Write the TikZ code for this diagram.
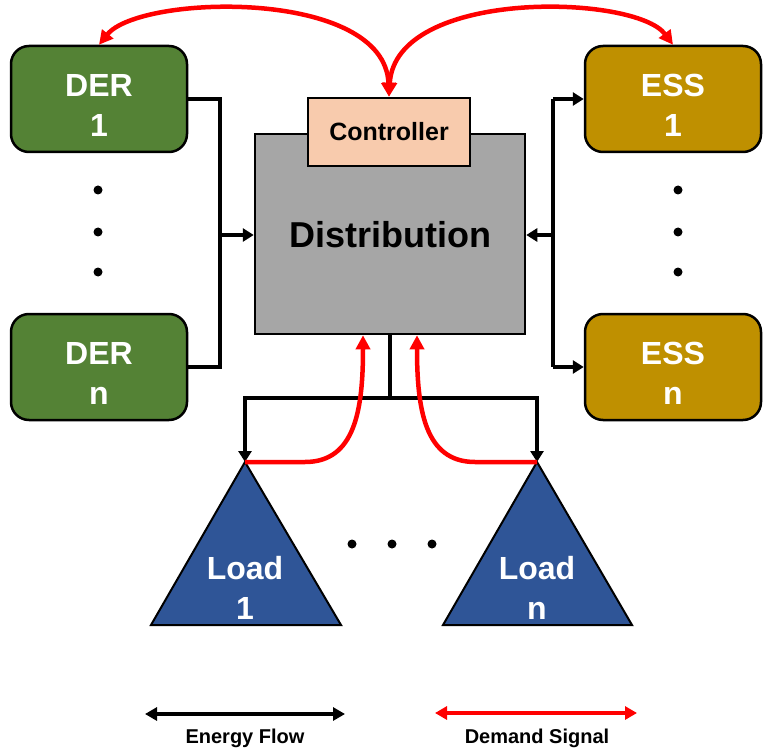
\documentclass[tikz,border=0pt]{standalone}
\usepackage{fontspec}
\setmainfont{Liberation Sans}
\usetikzlibrary{arrows.meta,calc}
\definecolor{dergreen}{HTML}{548235}
\definecolor{essgold}{HTML}{BF9000}
\definecolor{distgray}{HTML}{A6A6A6}
\definecolor{ctrlpeach}{HTML}{F8CBAD}
\definecolor{loadblue}{HTML}{2F5597}
\definecolor{sigred}{HTML}{FF0000}
\begin{document}
\begin{tikzpicture}[x=1pt,y=-1pt,
  boxtext/.style={text=white,align=center,font=\bfseries\fontsize{32}{40}\selectfont,yshift=-6pt},
  srcbox/.style={draw=black,line width=2.5pt,rounded corners=18pt,minimum width=176pt,minimum height=106pt,inner sep=0pt},
  derbox/.style={srcbox,fill=dergreen},
  essbox/.style={srcbox,fill=essgold},
  energy/.style={line width=4pt,draw=black},
  energyarrow/.style={energy,-{Triangle[length=11pt,width=13pt]}},
  redtip/.tip={Triangle[length=14pt,width=14pt]},
  signal/.style={line width=4.5pt,draw=sigred,-redtip},
  loadtri/.style={draw=black,line width=2pt,fill=loadblue,line join=miter},
  loadtext/.style={text=white,align=center,font=\bfseries\fontsize{32}{40}\selectfont},
  dotmark/.style={fill=black,draw=none},
  legendtext/.style={font=\bfseries\fontsize{20}{24}\selectfont}]
\useasboundingbox[fill=white] (0,0) rectangle (765,751);

% sources and storage
\node[derbox,label={[boxtext]center:DER\\1}] (der1) at (99,99) {};
\node[derbox,label={[boxtext]center:DER\\n}] (dern) at (99,367) {};
\node[essbox,label={[boxtext]center:ESS\\1}] (ess1) at (673,99) {};
\node[essbox,label={[boxtext]center:ESS\\n}] (essn) at (673,367) {};
\foreach \yy in {190,232,272}{
  \fill[dotmark] (98,\yy) circle (4.5pt);
  \fill[dotmark] (678,\yy) circle (4.5pt);
}

% distribution and controller
\node[draw=black,line width=2.5pt,fill=distgray,minimum width=270pt,minimum height=200pt,
  font=\bfseries\fontsize{36}{40}\selectfont,inner sep=0pt,text depth=0pt] (dist) at (390,234) {Distribution};
\node[draw=black,line width=2.5pt,fill=ctrlpeach,minimum width=162pt,minimum height=68pt,
  font=\bfseries\fontsize{25}{30}\selectfont,inner sep=0pt] (ctrl) at (389,132) {Controller};

% left bus
\coordinate (lbus) at (220,235);
\draw[energy,line join=miter] (der1.east) -| (lbus) |- (dern.east);
\draw[energyarrow] (lbus) -- (lbus -| dist.west);

% right bus
\coordinate (rbus) at (553,235);
\draw[energyarrow] (rbus) -- (rbus -| dist.east);
\draw[energy] (rbus |- ess1.west) -- (rbus |- essn.west);
\draw[energyarrow] (rbus |- ess1.west) -- (ess1.west);
\draw[energyarrow] (rbus |- essn.west) -- (essn.west);

% loads
\coordinate (l1top) at (245,462);
\coordinate (lntop) at (537,462);
\draw[loadtri] (l1top) -- (151,625) -- (341,625) -- cycle;
\draw[loadtri] (lntop) -- (443,625) -- (632,625) -- cycle;
\node[loadtext] (load1) at (245,588) {Load\\1};
\node[loadtext] (loadn) at (537,588) {Load\\n};
\foreach \xx in {352,392,432}{\fill[dotmark] (\xx,544) circle (4.5pt);}

% bottom energy tree
\coordinate (bj) at (390,398);
\draw[energy] (dist.south -| bj) -- (bj);
\draw[energyarrow,line join=miter] (bj) -| (l1top);
\draw[energyarrow,line join=miter] (bj) -| (lntop);

% demand signals from loads
\coordinate (sl) at ($(dist.south)+(-27,0)$);
\coordinate (sr) at ($(dist.south)+(27,0)$);
\draw[signal] (l1top) -- (305,462) .. controls (355,462) and (363,410) .. (sl);
\draw[signal] (lntop) -- (475,462) .. controls (425,462) and (417,410) .. (sr);

% demand signals controller <-> DER1 / ESS1
\draw[signal,redtip-redtip] (der1.north) .. controls (140,-6) and (385,-12) .. (ctrl.north);
\draw[signal,redtip-redtip] (ctrl.north) .. controls (395,-12) and (635,-6) .. (ess1.north);

% legend
\coordinate (ea) at (145,714);
\coordinate (eb) at (345,714);
\coordinate (da) at (435,713);
\coordinate (db) at (637,713);
\draw[line width=4pt,{Triangle[length=12pt,width=13pt]}-{Triangle[length=12pt,width=13pt]}] (ea) -- (eb);
\draw[line width=4pt,draw=sigred,{Triangle[length=12pt,width=13pt]}-{Triangle[length=12pt,width=13pt]}] (da) -- (db);
\node[legendtext] (eflow) at (245,738) {Energy Flow};
\node[legendtext] (dsig) at (537,738) {Demand Signal};
\end{tikzpicture}
\end{document}
